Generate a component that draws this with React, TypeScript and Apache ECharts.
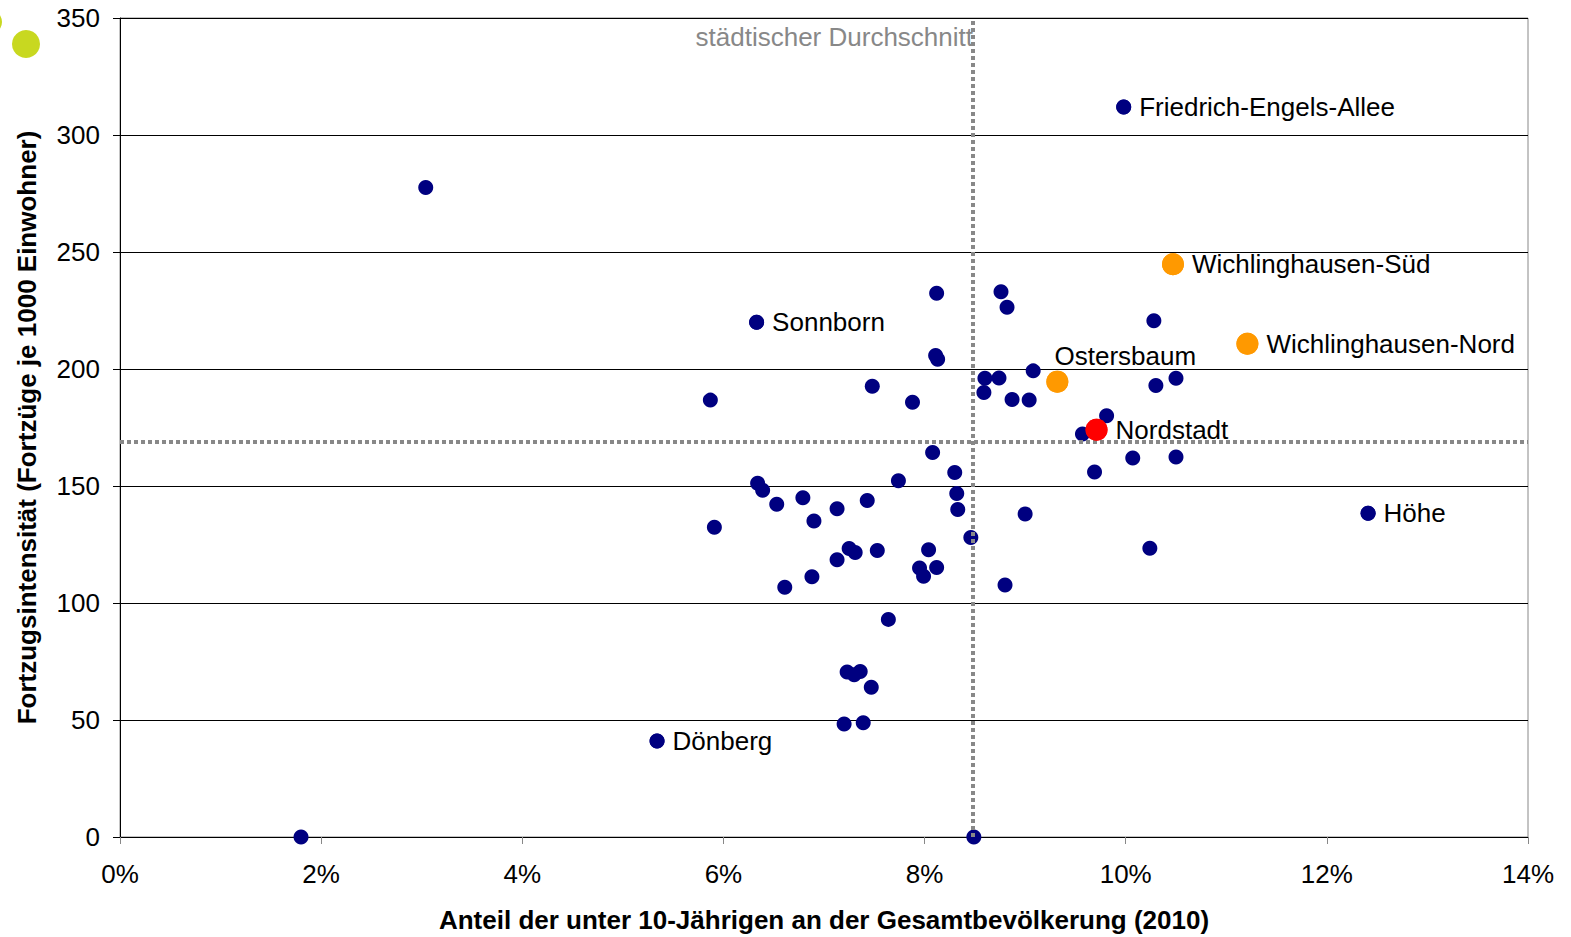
import React, { useEffect, useRef } from "react";
import * as echarts from "echarts";

// x: Anteil der unter 10-Jährigen (%), y: Fortzugsintensität
const bluePoints: [number, number][] = [
  [1.8, 0], [3.04, 277.6], [5.34, 41], [5.87, 186.7], [5.91, 132.4], [6.33, 220],
  [6.34, 151.2], [6.39, 148.2], [6.53, 142.2], [6.61, 106.7], [6.79, 145], [6.9, 135],
  [6.88, 111.2], [7.13, 140.3], [7.13, 118.5], [7.25, 123.3], [7.31, 121.6], [7.43, 143.8],
  [7.48, 192.6], [7.53, 122.4], [7.64, 93], [7.74, 152.2], [7.88, 185.8], [7.95, 115],
  [7.99, 111.4], [8.04, 122.8], [8.08, 164.3], [8.12, 232.4], [8.11, 205.8], [8.13, 204.2],
  [8.12, 115.2], [8.3, 155.8], [8.32, 146.8], [8.33, 140], [8.46, 128], [8.49, 0],
  [8.6, 196], [8.59, 190], [8.74, 196.2], [8.76, 233], [8.82, 226.4], [8.8, 107.7],
  [8.87, 187], [9.0, 138], [9.04, 186.8], [9.08, 199.2], [9.57, 172.2], [9.81, 180],
  [9.69, 156], [9.98, 312], [10.07, 162], [10.24, 123.4], [10.28, 220.6], [10.3, 192.9],
  [10.5, 196], [10.5, 162.4], [12.41, 138.4],
  [7.23, 70.5], [7.3, 69.3], [7.36, 70.7], [7.47, 64], [7.2, 48.3], [7.39, 48.8],
];
const orangePoints: [number, number][] = [[9.32, 194.6], [10.47, 244.8], [11.21, 210.8]];
const redPoints: [number, number][] = [[9.71, 174]];

// labelled districts: [x, y, name]
const namedBlue: [number, number, string][] = [
  [6.33, 220, "Sonnborn"], [5.34, 41, "Dönberg"], [9.98, 312, "Friedrich-Engels-Allee"], [12.41, 138.4, "Höhe"],
];
const namedOrange: [number, number, string][] = [
  [10.47, 244.8, "Wichlinghausen-Süd"], [11.21, 210.8, "Wichlinghausen-Nord"],
];
const ostersbaum: [number, number, string] = [9.32, 194.6, "Ostersbaum"];
const nordstadt: [number, number, string] = [9.71, 174, "Nordstadt"];

const avgX = 8.48;
const avgY = 169;
const avgLabel = "städtischer Durchschnitt";
const xTitle = "Anteil der unter 10-Jährigen an der Gesamtbevölkerung (2010)";
const yTitle = "Fortzugsintensität (Fortzüge je 1000 Einwohner)";

const FONT = "'Liberation Sans', Arial, sans-serif";
const FS = 26;

export default function App() {
  const ref = useRef<HTMLDivElement>(null);
  useEffect(() => {
    if (!ref.current) return;
    const chart = echarts.init(ref.current, null, { renderer: "svg" });
    const rightLabel = (extra: any = {}) => ({
      show: true, position: "right", distance: 8, formatter: "{b}",
      color: "#000", fontSize: FS, fontFamily: FONT, ...extra,
    });
    const blue = { color: "#000080", opacity: 1 };
    const orange = { color: "#ff9900", opacity: 1 };
    const red = { color: "#ff0000", opacity: 1 };
    chart.setOption({
      animation: false,
      textStyle: { fontFamily: FONT },
      grid: {
        left: 120, right: 43, top: 18, bottom: 100, show: true, borderColor: "#888", borderWidth: 1,
        containLabel: false, outerBoundsMode: "none",
      },
      xAxis: {
        type: "value", min: 0, max: 14, interval: 2,
        axisLine: { show: true, lineStyle: { color: "#000", width: 1 } },
        axisTick: { show: true, length: 7, lineStyle: { color: "#888" } },
        axisLabel: { formatter: "{value}%", color: "#000", fontSize: FS, margin: 24, fontFamily: FONT },
        splitLine: { show: false },
        name: xTitle, nameLocation: "middle", nameGap: 70,
        nameTextStyle: { fontSize: FS, fontWeight: "bold", color: "#000", fontFamily: FONT },
      },
      yAxis: {
        type: "value", min: 0, max: 350, interval: 50,
        axisLine: { show: true, lineStyle: { color: "#000", width: 1 } },
        axisTick: { show: true, length: 7, lineStyle: { color: "#000" } },
        axisLabel: { color: "#000", fontSize: FS, margin: 20, fontFamily: FONT },
        splitLine: { show: true, lineStyle: { color: "#000", width: 1 } },
        name: yTitle, nameLocation: "middle", nameGap: 80, nameRotate: 90,
        nameTextStyle: { fontSize: FS, fontWeight: "bold", color: "#000", fontFamily: FONT },
      },
      series: [
        {
          type: "scatter", symbolSize: 15, itemStyle: blue,
          data: bluePoints,
          z: 3,
          markLine: {
            silent: true, symbol: "none",
            lineStyle: { color: "#888", type: [4, 3], width: 4, opacity: 1 },
            label: { show: false },
            data: [{ xAxis: avgX }, { yAxis: avgY }],
          },
        },
        {
          type: "scatter", symbolSize: 15, itemStyle: blue,
          data: namedBlue.map(([x, y, n]) => ({ value: [x, y], name: n })),
          label: rightLabel(),
          z: 4,
        },
        {
          type: "scatter", symbolSize: 22, itemStyle: orange,
          data: orangePoints,
          z: 4,
        },
        {
          type: "scatter", symbolSize: 22, itemStyle: orange,
          data: namedOrange.map(([x, y, n]) => ({ value: [x, y], name: n })),
          label: rightLabel({ distance: 8 }),
          z: 5,
        },
        {
          type: "scatter", symbolSize: 22, itemStyle: orange,
          data: [{ value: [ostersbaum[0], ostersbaum[1]], name: ostersbaum[2] }],
          label: rightLabel({ position: "top", distance: 2, offset: [68, 0] }),
          z: 5,
        },
        {
          type: "scatter", symbolSize: 22, itemStyle: red,
          data: redPoints,
          z: 5,
        },
        {
          type: "scatter", symbolSize: 22, itemStyle: red,
          data: [{ value: [nordstadt[0], nordstadt[1]], name: nordstadt[2] }],
          label: rightLabel({ distance: 8 }),
          z: 5,
        },
      ],
      graphic: [
        { type: "circle", shape: { cx: 26, cy: 44, r: 14 }, style: { fill: "#c8d820" } },
        { type: "circle", shape: { cx: -10, cy: 22, r: 12 }, style: { fill: "#c8d820" } },
        {
          type: "text", x: 973, y: 37,
          style: { text: avgLabel, fill: "#888", fontSize: FS, fontFamily: FONT, align: "right", verticalAlign: "middle" },
          z: 10,
        },
      ],
    });
    return () => chart.dispose();
  }, []);
  return <div ref={ref} style={{ width: 1571, height: 937, position: "absolute", left: 0, top: 0 }} />;
}
